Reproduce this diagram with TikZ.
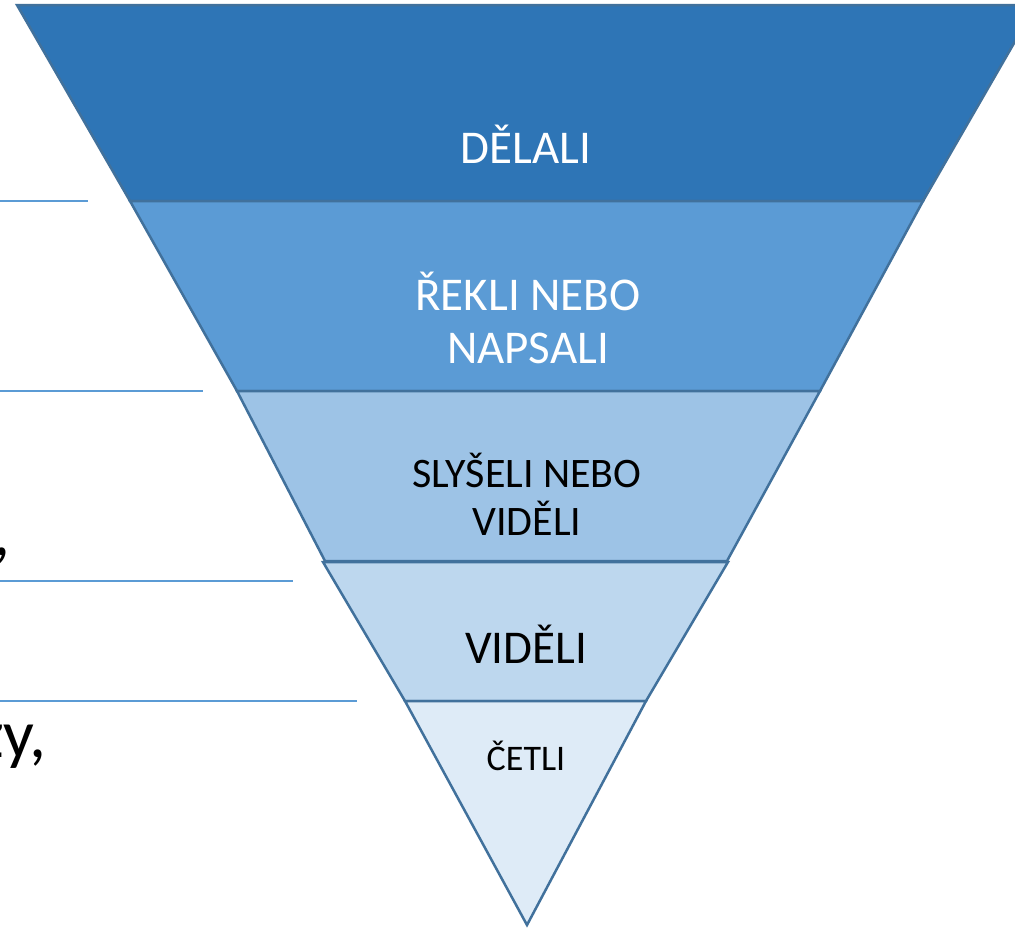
\documentclass[tikz,border=0pt]{standalone}
\usepackage{fontspec}
\setmainfont{Carlito}
\definecolor{bandA}{HTML}{2E75B6}
\definecolor{bandB}{HTML}{5B9BD5}
\definecolor{bandC}{HTML}{9DC3E6}
\definecolor{bandD}{HTML}{BDD7EE}
\definecolor{bandE}{HTML}{DEEBF7}
\definecolor{edge}{HTML}{41719C}
\definecolor{rule}{HTML}{5B9BD5}
\tikzset{
  band/.style={draw=edge, line width=2.5pt, line join=miter},
  rulebar/.style={draw=rule, line width=1.5pt},
  lbl/.style={anchor=base, align=center, inner sep=0pt},
  big/.style={font=\fontsize{47}{53}\selectfont},
  mid/.style={font=\fontsize{42}{48}\selectfont},
  small/.style={font=\fontsize{36}{42}\selectfont},
  side/.style={font=\fontsize{68}{80}\selectfont, anchor=base east, inner sep=0pt},
}
\begin{document}
\begin{tikzpicture}[x=1pt,y=-1pt]
\useasboundingbox (0,0) rectangle (1015,930);
\clip (0,0) rectangle (1015,930);
\fill[white] (0,0) rectangle (1015,930);
% left rules
\coordinate (r1a) at (0,201);   \coordinate (r1b) at (88,201);
\coordinate (r2a) at (0,391);   \coordinate (r2b) at (203,391);
\coordinate (r3a) at (0,581);   \coordinate (r3b) at (293,581);
\coordinate (r4a) at (0,701);   \coordinate (r4b) at (357,701);
\draw[rulebar] (r1a) -- (r1b);
\draw[rulebar] (r2a) -- (r2b);
\draw[rulebar] (r3a) -- (r3b);
\draw[rulebar] (r4a) -- (r4b);
% partial side text
\node[side] (comma) at (11,555) {,};
\node[side] (zy) at (47,757) {zy,};
% bands
\path[band, fill=bandA] (17,5) -- (1036,5) -- (923,201) -- (130,201) -- cycle;
\path[band, fill=bandB] (130,201) -- (923,201) -- (820,391) -- (237,391) -- cycle;
\path[band, fill=bandC] (237,391) -- (820,391) -- (727,561) -- (325,561) -- cycle;
\path[band, fill=bandD] (323,562) -- (728,562) -- (646,701) -- (405,701) -- cycle;
\path[band, fill=bandE] (405,701) -- (646,701) -- (527,925) -- cycle;
% labels
\node[lbl, big, text=white] (t1) at (526,163) {DĚLALI};
\node[lbl, big, text=white] (t2) at (528,363) {ŘEKLI NEBO\\NAPSALI};
\node[lbl, mid, text=black] (t3) at (527,535) {SLYŠELI NEBO\\VIDĚLI};
\node[lbl, big, text=black] (t4) at (526,663) {VIDĚLI};
\node[lbl, small, text=black] (t5) at (526,770) {ČETLI};
\end{tikzpicture}
\end{document}
